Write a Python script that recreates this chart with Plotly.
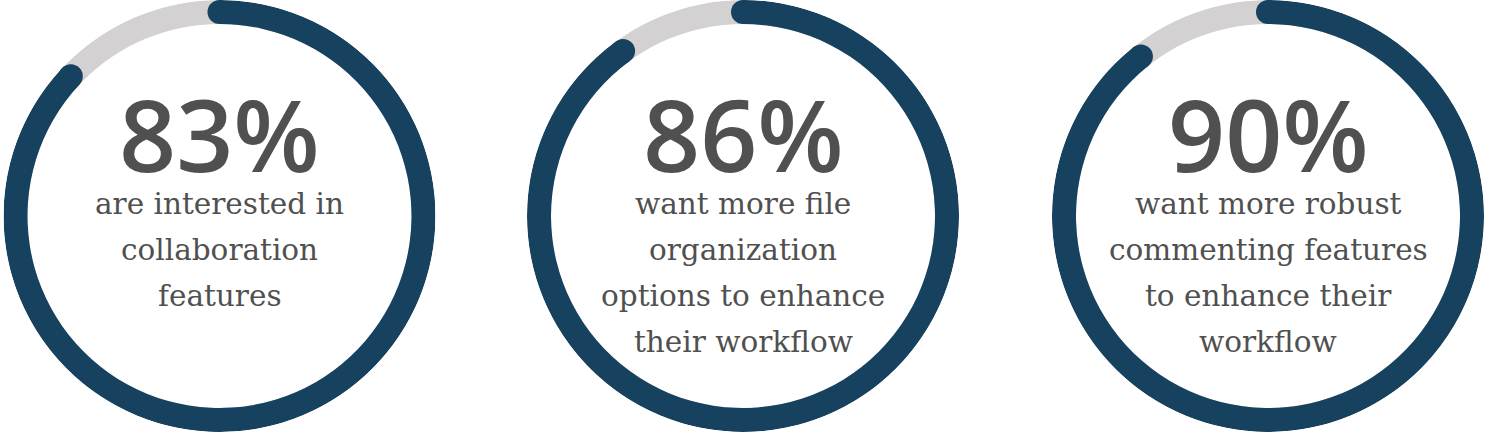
import plotly.graph_objects as go

# ---- data ----
labels = ["83%", "86%", "90%"]
# arc lengths as drawn in the picture (percent of full circle)
arc_values = [87, 90, 89.3]
descriptions = [
    ["are interested in", "collaboration", "features"],
    ["want more file", "organization", "options to enhance", "their workflow"],
    ["want more robust", "commenting features", "to enhance their", "workflow"],
]

# ---- style ----
W, H = 1486, 432
DARK = "#16415f"
GRAY = "#d3d1d2"
TEXT = "#505050"
centers_px = [219.5, 743, 1268]
R_OUT = 216
THICK = 24

fig = go.Figure()
layout_polars = {}
annotations = []

for i, (lab, arc, lines) in enumerate(zip(labels, arc_values, descriptions)):
    pname = "polar" if i == 0 else f"polar{i+1}"
    sub = pname
    cx = centers_px[i]
    x0 = (cx - R_OUT) / W
    x1 = (cx + R_OUT) / W
    ang = arc * 3.6
    # background (remaining) ring
    fig.add_trace(go.Barpolar(
        r=[THICK], base=[R_OUT - THICK], theta=[180], width=[360],
        marker=dict(color=GRAY, line=dict(width=0)),
        subplot=sub, showlegend=False, hoverinfo="skip"))
    # value arc
    fig.add_trace(go.Barpolar(
        r=[THICK], base=[R_OUT - THICK], theta=[ang / 2], width=[ang],
        marker=dict(color=DARK, line=dict(width=0)),
        subplot=sub, showlegend=False, hoverinfo="skip"))
    # rounded caps
    fig.add_trace(go.Scatterpolar(
        r=[R_OUT - THICK / 2] * 2, theta=[0, ang], mode="markers",
        marker=dict(color=DARK, size=THICK, line=dict(width=0)),
        subplot=sub, showlegend=False, hoverinfo="skip", cliponaxis=False))
    layout_polars[pname] = dict(
        domain=dict(x=[x0, x1], y=[0, 1]),
        bgcolor="rgba(0,0,0,0)",
        radialaxis=dict(visible=False, range=[0, R_OUT]),
        angularaxis=dict(visible=False, direction="clockwise", rotation=90),
        bargap=0,
    )
    annotations.append(dict(
        x=cx / W, y=1 - 133 / H, xref="paper", yref="paper",
        text=lab, showarrow=False, xanchor="center", yanchor="middle",
        font=dict(family="Open Sans", size=100, color=TEXT, weight=600)))
    for j, line in enumerate(lines):
        annotations.append(dict(
            x=cx / W, y=1 - (204 + 46 * j) / H, xref="paper", yref="paper",
            text=line, showarrow=False, xanchor="center", yanchor="middle",
            font=dict(family="DejaVu Serif", size=29.5, color=TEXT)))

fig.update_layout(
    width=W, height=H,
    margin=dict(l=0, r=0, t=0, b=0),
    paper_bgcolor="white", plot_bgcolor="white",
    annotations=annotations,
    **layout_polars,
)

fig.write_html("out.html", config={"displayModeBar": False},
               post_script="document.body.style.margin='0';")
